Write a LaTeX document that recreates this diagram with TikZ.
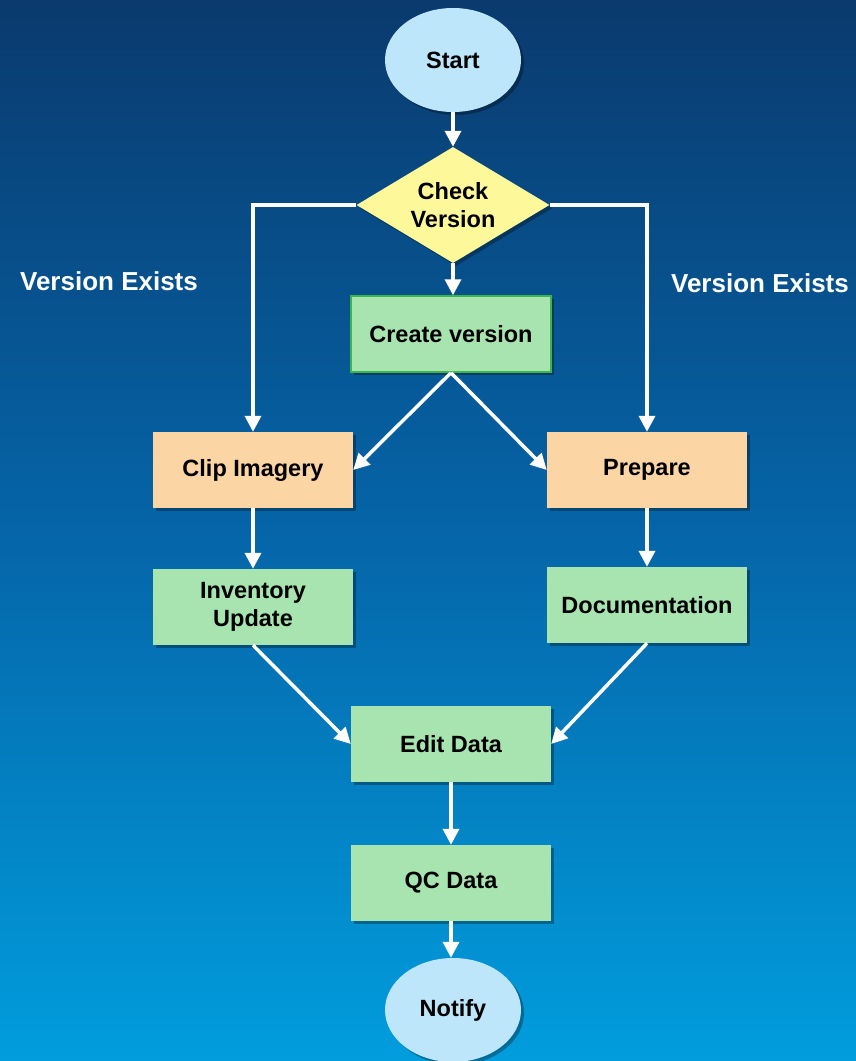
\documentclass[tikz,border=0pt]{standalone}
\usepackage{fontspec}
\setmainfont{Liberation Sans}
\usetikzlibrary{shapes.geometric,arrows.meta,shadows}
\definecolor{bgtop}{HTML}{0A3A6E}
\definecolor{bgmid}{HTML}{0565A8}
\definecolor{bgbot}{HTML}{019DDD}
\definecolor{oval}{HTML}{BEE6FB}
\definecolor{dia}{HTML}{FDF99A}
\definecolor{grn}{HTML}{A8E4B0}
\definecolor{grnb}{HTML}{3DB54A}
\definecolor{peach}{HTML}{FCD5A5}
\begin{document}
\begin{tikzpicture}[x=1pt,y=-1pt,
  every node/.style={font=\fontsize{23.5}{28.5}\selectfont\bfseries},
  sh/.style={drop shadow={shadow xshift=3pt,shadow yshift=-3pt,opacity=0.3,fill=black}},
  oval/.style={ellipse,fill=oval,minimum width=136pt,minimum height=104pt,inner sep=0pt,sh},
  dec/.style={diamond,aspect=1.66,fill=dia,minimum width=193pt,minimum height=116pt,inner sep=-8pt,align=center,sh},
  gbox/.style={rectangle,fill=grn,minimum width=200pt,minimum height=76pt,inner sep=0pt,align=center,sh},
  pbox/.style={rectangle,fill=peach,minimum width=200pt,minimum height=76pt,inner sep=0pt,align=center,sh},
  lbl/.style={text=white,font=\fontsize{26}{30}\selectfont\bfseries},
  conn/.style={draw=white,line width=3.5pt,-{Triangle[width=16pt,length=16pt]}}
]
\shade[top color=bgtop,bottom color=bgbot,middle color=bgmid] (0,0) rectangle (856,1061);
\useasboundingbox (0,0) rectangle (856,1061);

\node[oval] (start) at (453,60) {Start};
\node[dec] (check) at (453,205) {Check\\Version};
\node[gbox,draw=grnb,line width=1.5pt] (create) at (451,334) {Create version};
\node[pbox] (clip) at (253,470) {Clip Imagery};
\node[pbox] (prep) at (647,470) {Prepare};
\node[gbox] (inv) at (253,607) {Inventory\\Update};
\node[gbox] (doc) at (647,605) {Documentation};
\node[gbox] (edit) at (451,744) {Edit Data};
\node[gbox] (qc) at (451,883) {QC Data};
\node[oval] (notify) at (453,1010) {Notify};

\node[lbl] (ve1) at (109,281) {Version Exists};
\node[lbl] (ve2) at (760,283) {Version Exists};

\draw[conn] (start.south) -- (check.north);
\draw[conn] (check.south) -- (create.north -| check.south);
\draw[conn] (check.west) -| (clip.north);
\draw[conn] (check.east) -| (prep.north);
\draw[conn] (create.south) -- (clip.east);
\draw[conn] (create.south) -- (prep.west);
\draw[conn] (clip.south) -- (inv.north);
\draw[conn] (prep.south) -- (doc.north);
\draw[conn] (inv.south) -- (edit.west);
\draw[conn] (doc.south) -- (edit.east);
\draw[conn] (edit.south) -- (qc.north);
\draw[conn] (qc.south) -- (notify.north -| qc.south);
\end{tikzpicture}
\end{document}
